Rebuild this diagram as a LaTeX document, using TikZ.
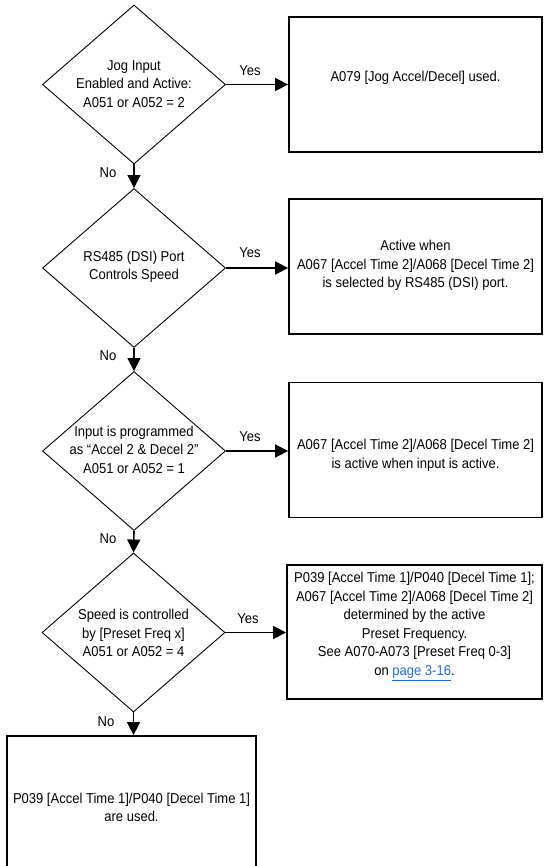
\documentclass[tikz,border=0pt]{standalone}
\usepackage{fontspec}
\setmainfont[FakeStretch=0.91]{Liberation Sans}
\usetikzlibrary{shapes.geometric,arrows.meta,calc}
\definecolor{linkblue}{RGB}{25,110,225}

\begin{document}
\begin{tikzpicture}[x=1pt,y=-1pt,
  txt/.style={font=\fontsize{14.3}{18.5}\selectfont, align=center, inner sep=0pt},
  decision/.style={draw, line width=0.9pt, shape=diamond, minimum width=183pt, minimum height=159pt, inner sep=0pt},
  outcome/.style={draw, line width=1.8pt, minimum width=253pt, minimum height=135pt, inner sep=0pt},
  flow/.style={line width=1.6pt, -{Triangle[length=13pt,width=13pt]}},
  lbl/.style={font=\fontsize{14.3}{18.5}\selectfont, inner sep=0pt}]

\useasboundingbox (0,0) rectangle (543,866);
\clip (0,0) rectangle (543,866);

% decisions
\node[decision] (d1) at (134,84.5) {};
\node[txt] (d1t) at (134,84) {Jog Input\\Enabled and Active:\\A051 or A052 = 2};
\node[decision] (d2) at (134,268) {};
\node[txt] (d2t) at (134,267) {RS485 (DSI) Port\\Controls Speed};
\node[decision] (d3) at (134,451) {};
\node[txt] (d3t) at (134,449.5) {Input is programmed\\as “Accel 2 \& Decel 2”\\A051 or A052 = 1};
\node[decision] (d4) at (133.5,632.5) {};
\node[txt] (d4t) at (133.5,633) {Speed is controlled\\by [Preset Freq x]\\A051 or A052 = 4};

% outcomes
\node[outcome] (b1) at (415.5,84.5) {};
\node[txt] (b1t) at (415.5,77.5) {A079 [Jog Accel/Decel] used.};
\node[outcome] (b2) at (415.5,266.5) {};
\node[txt] (b2t) at (415.5,265.5) {Active when\\A067 [Accel Time 2]/A068 [Decel Time 2]\\is selected by RS485 (DSI) port.};
\node[outcome] (b3) at (415.5,450) {};
\node[txt] (b3t) at (415.5,455.5) {A067 [Accel Time 2]/A068 [Decel Time 2]\\is active when input is active.};
\node[outcome, minimum width=255pt, minimum height=134pt] (b4) at (414.5,632) {};
\node[txt] (b4t) at (414.5,626.5) {P039 [Accel Time 1]/P040 [Decel Time 1];\\A067 [Accel Time 2]/A068 [Decel Time 2]\\determined by the active\\Preset Frequency.\\See A070-A073 [Preset Freq 0-3]\\on \textcolor{linkblue}{\underline{page 3-16}}.};
\node[outcome, minimum width=249pt] (b5) at (131.5,803.5) {};
\node[txt] (b5t) at (131.5,807.5) {P039 [Accel Time 1]/P040 [Decel Time 1]\\are used.};

% yes branches
\draw[flow] (d1.east) -- (d1.east -| b1.west);
\draw[flow] (d2.east) -- (d2.east -| b2.west);
\draw[flow] (d3.east) -- (d3.east -| b3.west);
\draw[flow] (d4.east) -- (d4.east -| b4.west);

% no branches
\draw[flow] (d1.south) -- (d2.north);
\draw[flow] (d2.south) -- (d3.north);
\draw[flow] (d3.south) -- (d4.north);
\draw[flow] (d4.south) -- (d4.south |- b5.north);

% branch labels
\node[lbl] (y1) at (250,71) {Yes};
\node[lbl] (y2) at (250,253) {Yes};
\node[lbl] (y3) at (250,437) {Yes};
\node[lbl] (y4) at (248,619) {Yes};
\node[lbl] (n1) at (108,173) {No};
\node[lbl] (n2) at (108,356) {No};
\node[lbl] (n3) at (108,539) {No};
\node[lbl] (n4) at (106,722) {No};
\end{tikzpicture}
\end{document}
